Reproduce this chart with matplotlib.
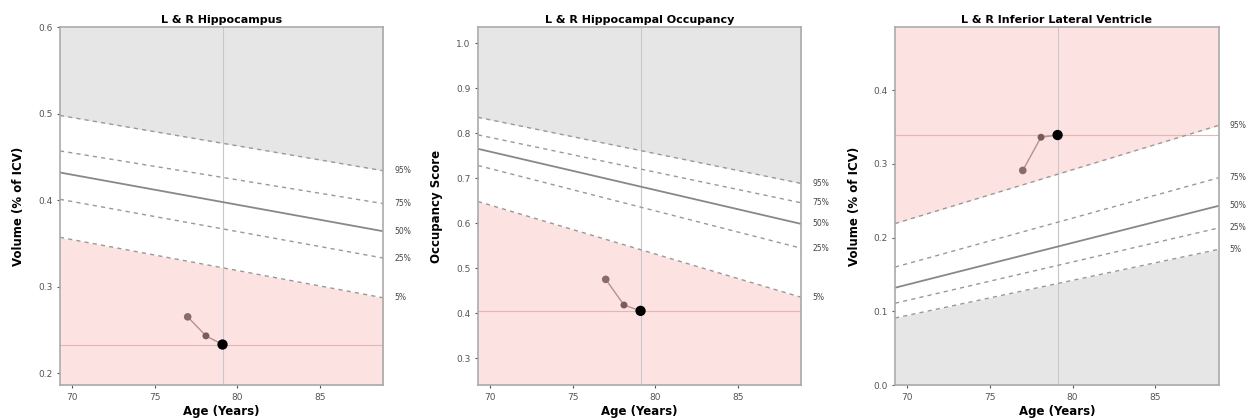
import numpy as np
import matplotlib
matplotlib.use('Agg')
import matplotlib.pyplot as plt

# patient visits
ages = [77.0, 78.1, 79.1]

# percentile lines: value at left edge, value at right edge of x range
pct_labels = ['95%', '75%', '50%', '25%', '5%']

hippo_vals = [0.265, 0.243, 0.233]
hippo_start = [0.498, 0.457, 0.432, 0.401, 0.357]
hippo_end = [0.434, 0.396, 0.364, 0.333, 0.287]

occ_vals = [0.475, 0.418, 0.405]
occ_start = [0.835, 0.796, 0.765, 0.728, 0.648]
occ_end = [0.688, 0.645, 0.598, 0.544, 0.435]

ilv_vals = [0.291, 0.336, 0.339]
ilv_start = [0.219, 0.160, 0.132, 0.111, 0.091]
ilv_end = [0.352, 0.281, 0.243, 0.213, 0.184]

x_range = [69.3, 88.8]
xticks = [70, 75, 80, 85]

panels = [
    ('L & R Hippocampus', 'Volume (% of ICV)', hippo_vals, hippo_start, hippo_end,
     (0.186, 0.6), [0.2, 0.3, 0.4, 0.5, 0.6], False),
    ('L & R Hippocampal Occupancy', 'Occupancy Score', occ_vals, occ_start, occ_end,
     (0.24, 1.035), [0.3, 0.4, 0.5, 0.6, 0.7, 0.8, 0.9, 1.0], False),
    ('L & R Inferior Lateral Ventricle', 'Volume (% of ICV)', ilv_vals, ilv_start, ilv_end,
     (0.0, 0.485), [0.0, 0.1, 0.2, 0.3, 0.4], True),
]

lefts = [0.048, 0.3827, 0.7166]
grey_fill = '#e6e6e6'
pink_fill = '#fde2e2'

fig = plt.figure(figsize=(12.49, 4.2), dpi=100)

for left, (title, ylabel, vals, starts, ends, ylim, yticks, reverse) in zip(lefts, panels):
    ax = fig.add_axes([left, 0.083, 0.259, 0.852])
    ax.set_xlim(x_range)
    ax.set_ylim(ylim)
    xs = np.array(x_range)

    top = np.array([starts[0], ends[0]])
    bot = np.array([starts[-1], ends[-1]])
    up_col, low_col = (pink_fill, grey_fill) if reverse else (grey_fill, pink_fill)
    ax.fill_between(xs, top, ylim[1], color=up_col, zorder=0, lw=0)
    ax.fill_between(xs, ylim[0], bot, color=low_col, zorder=0, lw=0)

    for lab, s, e in zip(pct_labels, starts, ends):
        if lab == '50%':
            ax.plot(xs, [s, e], color='#888888', lw=1.3, zorder=2)
        else:
            ax.plot(xs, [s, e], color='#999999', lw=1.0, ls=(0, (3, 3)), zorder=2)
        ax.annotate(lab, xy=(1.0, e), xycoords=('axes fraction', 'data'),
                    xytext=(8, 0), textcoords='offset points', va='center',
                    fontsize=5.5, color='#444444', annotation_clip=False)

    # current visit guides
    ax.axvline(ages[-1], color='#c8c8c8', lw=0.8, zorder=1)
    ax.axhline(vals[-1], color='#e0b8b8', lw=0.8, zorder=1)

    ax.plot(ages, vals, color='#b89090', lw=1.0, zorder=3)
    ax.scatter(ages, vals, s=[30, 25, 55], c=['#8a6a6a', '#7a5a5a', '#000000'],
               zorder=4, edgecolors='none')

    ax.set_xticks(xticks)
    ax.set_yticks(yticks)
    ax.tick_params(labelsize=6.5, colors='#555555', length=2)
    for sp in ax.spines.values():
        sp.set_color('#aaaaaa')
        sp.set_linewidth(1.2)
    ax.set_title(title, fontsize=8, fontweight='bold', pad=3)
    ax.set_ylabel(ylabel, fontsize=8.5, fontweight='bold', labelpad=9)
    ax.set_xlabel('Age (Years)', fontsize=8.5, fontweight='bold', labelpad=2)

plt.savefig('out.png', dpi=100)
plt.close()
